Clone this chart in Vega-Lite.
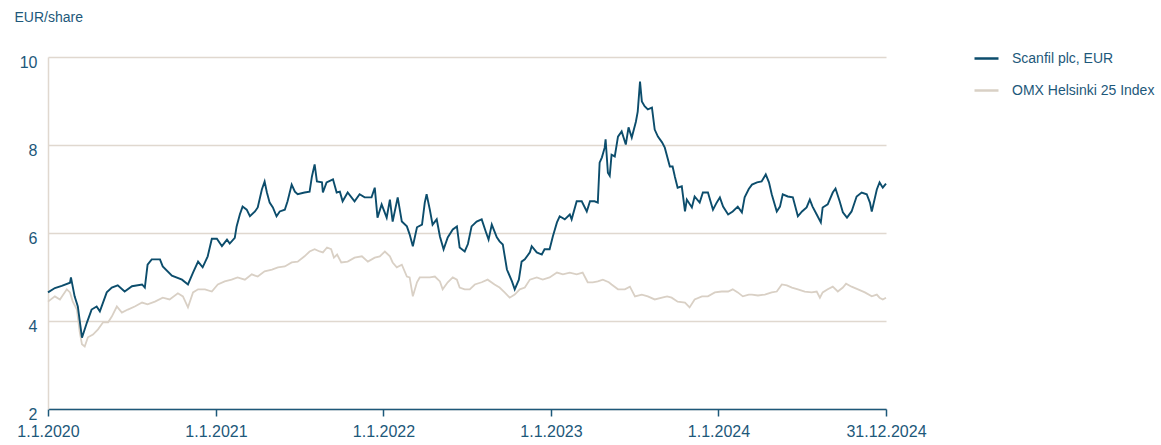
{
  "$schema": "https://vega.github.io/schema/vega-lite/v6.json",
  "width": 838,
  "height": 352,
  "autosize": {"type": "none"},
  "padding": {"left": 48, "top": 57, "right": 275, "bottom": 36},
  "background": "white",
  "config": {
    "view": {"stroke": null},
    "font": "Liberation Sans",
    "legend": {"labelFont": "Liberation Sans"}
  },
  "datasets": {
    "scanfil": [
      {"date":"2020-01-01","value":4.65},{"date":"2020-01-16","value":4.75},{"date":"2020-01-31","value":4.8},{"date":"2020-02-18","value":4.87},{"date":"2020-02-20","value":4.99},{"date":"2020-02-28","value":4.56},{"date":"2020-03-06","value":4.33},{"date":"2020-03-15","value":3.62},{"date":"2020-03-26","value":3.97},{"date":"2020-04-05","value":4.26},{"date":"2020-04-16","value":4.33},{"date":"2020-04-23","value":4.22},{"date":"2020-05-08","value":4.65},{"date":"2020-05-19","value":4.76},{"date":"2020-06-01","value":4.81},{"date":"2020-06-16","value":4.67},{"date":"2020-07-02","value":4.79},{"date":"2020-07-24","value":4.83},{"date":"2020-07-30","value":4.76},{"date":"2020-08-05","value":5.28},{"date":"2020-08-14","value":5.4},{"date":"2020-09-01","value":5.4},{"date":"2020-09-07","value":5.24},{"date":"2020-09-27","value":5.03},{"date":"2020-10-19","value":4.94},{"date":"2020-11-01","value":4.83},{"date":"2020-11-12","value":5.1},{"date":"2020-11-23","value":5.35},{"date":"2020-12-03","value":5.22},{"date":"2020-12-14","value":5.47},{"date":"2020-12-23","value":5.87},
      {"date":"2021-01-03","value":5.87},{"date":"2021-01-14","value":5.7},{"date":"2021-01-25","value":5.85},{"date":"2021-01-31","value":5.76},{"date":"2021-02-11","value":5.89},{"date":"2021-02-15","value":6.15},{"date":"2021-02-22","value":6.42},{"date":"2021-02-28","value":6.6},{"date":"2021-03-09","value":6.53},{"date":"2021-03-16","value":6.38},{"date":"2021-03-27","value":6.49},{"date":"2021-04-02","value":6.58},{"date":"2021-04-11","value":6.99},{"date":"2021-04-17","value":7.17},{"date":"2021-04-22","value":6.92},{"date":"2021-04-28","value":6.69},{"date":"2021-05-05","value":6.58},{"date":"2021-05-13","value":6.38},{"date":"2021-05-20","value":6.49},{"date":"2021-05-31","value":6.53},{"date":"2021-06-06","value":6.72},{"date":"2021-06-15","value":7.1},{"date":"2021-06-22","value":6.94},{"date":"2021-06-28","value":6.88},{"date":"2021-07-13","value":6.92},{"date":"2021-07-24","value":6.94},{"date":"2021-07-29","value":7.28},{"date":"2021-08-04","value":7.56},{"date":"2021-08-09","value":7.17},{"date":"2021-08-20","value":7.15},{"date":"2021-08-22","value":6.92},{"date":"2021-08-30","value":7.15},{"date":"2021-09-13","value":7.22},{"date":"2021-09-21","value":6.92},{"date":"2021-09-28","value":6.94},{"date":"2021-10-04","value":6.72},{"date":"2021-10-15","value":6.92},{"date":"2021-10-30","value":6.72},{"date":"2021-11-10","value":6.88},{"date":"2021-11-21","value":6.81},{"date":"2021-12-06","value":6.81},{"date":"2021-12-13","value":7.03},{"date":"2021-12-19","value":6.35},{"date":"2021-12-28","value":6.65},
      {"date":"2022-01-08","value":6.35},{"date":"2022-01-15","value":6.76},{"date":"2022-01-21","value":6.26},{"date":"2022-02-01","value":6.81},{"date":"2022-02-10","value":6.26},{"date":"2022-02-21","value":6.15},{"date":"2022-02-27","value":5.97},{"date":"2022-03-06","value":5.7},{"date":"2022-03-15","value":6.13},{"date":"2022-03-26","value":6.19},{"date":"2022-04-01","value":6.69},{"date":"2022-04-05","value":6.88},{"date":"2022-04-12","value":6.53},{"date":"2022-04-18","value":6.19},{"date":"2022-04-27","value":6.31},{"date":"2022-05-04","value":5.92},{"date":"2022-05-12","value":5.63},{"date":"2022-05-21","value":5.9},{"date":"2022-06-01","value":6.08},{"date":"2022-06-10","value":6.15},{"date":"2022-06-16","value":5.67},{"date":"2022-06-27","value":5.58},{"date":"2022-07-04","value":5.75},{"date":"2022-07-12","value":6.15},{"date":"2022-07-23","value":6.26},{"date":"2022-08-03","value":6.31},{"date":"2022-08-12","value":6.03},{"date":"2022-08-18","value":5.85},{"date":"2022-08-25","value":6.19},{"date":"2022-09-05","value":5.9},{"date":"2022-09-11","value":5.81},{"date":"2022-09-18","value":5.74},{"date":"2022-09-27","value":5.17},{"date":"2022-10-08","value":4.9},{"date":"2022-10-14","value":4.72},{"date":"2022-10-23","value":4.94},{"date":"2022-10-29","value":5.35},{"date":"2022-11-05","value":5.4},{"date":"2022-11-16","value":5.56},{"date":"2022-11-20","value":5.7},{"date":"2022-12-01","value":5.56},{"date":"2022-12-12","value":5.51},{"date":"2022-12-18","value":5.63},{"date":"2022-12-29","value":5.63},
      {"date":"2023-01-05","value":5.92},{"date":"2023-01-14","value":6.24},{"date":"2023-01-20","value":6.38},{"date":"2023-01-31","value":6.31},{"date":"2023-02-11","value":6.42},{"date":"2023-02-15","value":6.31},{"date":"2023-02-26","value":6.72},{"date":"2023-03-09","value":6.72},{"date":"2023-03-20","value":6.49},{"date":"2023-03-27","value":6.72},{"date":"2023-04-06","value":6.72},{"date":"2023-04-13","value":6.69},{"date":"2023-04-17","value":7.6},{"date":"2023-04-22","value":7.72},{"date":"2023-04-28","value":7.94},{"date":"2023-04-30","value":8.13},{"date":"2023-05-05","value":7.37},{"date":"2023-05-09","value":7.3},{"date":"2023-05-13","value":7.78},{"date":"2023-05-20","value":7.74},{"date":"2023-05-27","value":8.19},{"date":"2023-06-04","value":8.31},{"date":"2023-06-13","value":8.01},{"date":"2023-06-19","value":8.4},{"date":"2023-06-26","value":8.17},{"date":"2023-07-05","value":8.53},{"date":"2023-07-09","value":8.76},{"date":"2023-07-14","value":9.44},{"date":"2023-07-18","value":8.99},{"date":"2023-07-24","value":8.88},{"date":"2023-07-31","value":8.81},{"date":"2023-08-09","value":8.85},{"date":"2023-08-15","value":8.35},{"date":"2023-08-22","value":8.19},{"date":"2023-08-31","value":8.06},{"date":"2023-09-06","value":7.94},{"date":"2023-09-17","value":7.51},{"date":"2023-09-23","value":7.51},{"date":"2023-09-28","value":7.28},{"date":"2023-10-04","value":7.03},{"date":"2023-10-13","value":7.06},{"date":"2023-10-20","value":6.49},{"date":"2023-10-24","value":6.76},{"date":"2023-11-04","value":6.58},{"date":"2023-11-10","value":6.83},{"date":"2023-11-21","value":6.69},{"date":"2023-11-28","value":6.92},{"date":"2023-12-09","value":6.92},{"date":"2023-12-20","value":6.53},{"date":"2023-12-28","value":6.69},
      {"date":"2024-01-04","value":6.81},{"date":"2024-01-11","value":6.6},{"date":"2024-01-22","value":6.42},{"date":"2024-02-01","value":6.49},{"date":"2024-02-12","value":6.6},{"date":"2024-02-21","value":6.47},{"date":"2024-02-27","value":6.81},{"date":"2024-03-07","value":7.0},{"date":"2024-03-14","value":7.1},{"date":"2024-03-25","value":7.15},{"date":"2024-04-04","value":7.17},{"date":"2024-04-13","value":7.33},{"date":"2024-04-20","value":7.15},{"date":"2024-04-26","value":6.88},{"date":"2024-05-07","value":6.49},{"date":"2024-05-14","value":6.6},{"date":"2024-05-20","value":6.88},{"date":"2024-05-31","value":6.83},{"date":"2024-06-11","value":6.81},{"date":"2024-06-22","value":6.38},{"date":"2024-07-01","value":6.49},{"date":"2024-07-11","value":6.58},{"date":"2024-07-18","value":6.76},{"date":"2024-07-24","value":6.6},{"date":"2024-08-02","value":6.42},{"date":"2024-08-11","value":6.24},{"date":"2024-08-15","value":6.58},{"date":"2024-08-26","value":6.65},{"date":"2024-09-06","value":6.92},{"date":"2024-09-12","value":7.01},{"date":"2024-09-21","value":6.72},{"date":"2024-09-28","value":6.47},{"date":"2024-10-07","value":6.35},{"date":"2024-10-17","value":6.49},{"date":"2024-10-28","value":6.83},{"date":"2024-11-08","value":6.92},{"date":"2024-11-19","value":6.88},{"date":"2024-11-26","value":6.69},{"date":"2024-11-30","value":6.49},{"date":"2024-12-11","value":6.99},{"date":"2024-12-17","value":7.15},{"date":"2024-12-24","value":7.03},{"date":"2024-12-31","value":7.12}
    ],
    "omx": [
      {"date":"2020-01-01","value":4.44},{"date":"2020-01-16","value":4.56},{"date":"2020-01-27","value":4.49},{"date":"2020-02-11","value":4.72},{"date":"2020-02-18","value":4.65},{"date":"2020-02-24","value":4.44},{"date":"2020-03-04","value":4.26},{"date":"2020-03-10","value":3.76},{"date":"2020-03-15","value":3.47},{"date":"2020-03-21","value":3.42},{"date":"2020-03-28","value":3.63},{"date":"2020-04-08","value":3.69},{"date":"2020-04-19","value":3.81},{"date":"2020-04-30","value":3.97},{"date":"2020-05-11","value":3.97},{"date":"2020-05-19","value":4.1},{"date":"2020-05-30","value":4.33},{"date":"2020-06-10","value":4.19},{"date":"2020-06-23","value":4.26},{"date":"2020-07-08","value":4.33},{"date":"2020-07-24","value":4.42},{"date":"2020-08-05","value":4.38},{"date":"2020-08-21","value":4.44},{"date":"2020-09-07","value":4.53},{"date":"2020-09-22","value":4.49},{"date":"2020-10-10","value":4.63},{"date":"2020-10-21","value":4.56},{"date":"2020-11-01","value":4.31},{"date":"2020-11-12","value":4.65},{"date":"2020-11-23","value":4.72},{"date":"2020-12-08","value":4.72},{"date":"2020-12-23","value":4.67},
      {"date":"2021-01-05","value":4.83},{"date":"2021-01-20","value":4.9},{"date":"2021-02-04","value":4.94},{"date":"2021-02-17","value":4.99},{"date":"2021-03-05","value":4.94},{"date":"2021-03-20","value":5.06},{"date":"2021-04-02","value":5.01},{"date":"2021-04-17","value":5.13},{"date":"2021-05-03","value":5.17},{"date":"2021-05-16","value":5.22},{"date":"2021-05-31","value":5.24},{"date":"2021-06-15","value":5.33},{"date":"2021-06-28","value":5.35},{"date":"2021-07-13","value":5.47},{"date":"2021-07-24","value":5.58},{"date":"2021-08-04","value":5.63},{"date":"2021-08-15","value":5.58},{"date":"2021-08-22","value":5.56},{"date":"2021-08-31","value":5.67},{"date":"2021-09-09","value":5.63},{"date":"2021-09-15","value":5.44},{"date":"2021-09-22","value":5.51},{"date":"2021-10-01","value":5.33},{"date":"2021-10-15","value":5.35},{"date":"2021-10-30","value":5.44},{"date":"2021-11-15","value":5.47},{"date":"2021-11-28","value":5.35},{"date":"2021-12-13","value":5.44},{"date":"2021-12-24","value":5.47},
      {"date":"2022-01-04","value":5.58},{"date":"2022-01-15","value":5.47},{"date":"2022-01-21","value":5.33},{"date":"2022-01-30","value":5.22},{"date":"2022-02-10","value":5.28},{"date":"2022-02-21","value":5.01},{"date":"2022-02-27","value":4.99},{"date":"2022-03-06","value":4.56},{"date":"2022-03-15","value":4.88},{"date":"2022-03-21","value":4.99},{"date":"2022-04-01","value":4.99},{"date":"2022-04-12","value":4.99},{"date":"2022-04-23","value":5.01},{"date":"2022-05-04","value":4.9},{"date":"2022-05-10","value":4.72},{"date":"2022-05-21","value":4.88},{"date":"2022-06-01","value":4.99},{"date":"2022-06-10","value":4.94},{"date":"2022-06-16","value":4.76},{"date":"2022-06-27","value":4.72},{"date":"2022-07-08","value":4.72},{"date":"2022-07-19","value":4.83},{"date":"2022-08-03","value":4.88},{"date":"2022-08-16","value":4.94},{"date":"2022-08-31","value":4.83},{"date":"2022-09-11","value":4.76},{"date":"2022-09-22","value":4.65},{"date":"2022-10-03","value":4.53},{"date":"2022-10-14","value":4.6},{"date":"2022-10-25","value":4.72},{"date":"2022-11-05","value":4.76},{"date":"2022-11-16","value":4.94},{"date":"2022-12-01","value":4.99},{"date":"2022-12-14","value":4.94},{"date":"2022-12-29","value":4.99},
      {"date":"2023-01-14","value":5.1},{"date":"2023-01-27","value":5.06},{"date":"2023-02-11","value":5.1},{"date":"2023-02-26","value":5.06},{"date":"2023-03-11","value":5.1},{"date":"2023-03-22","value":4.88},{"date":"2023-04-02","value":4.88},{"date":"2023-04-13","value":4.9},{"date":"2023-04-24","value":4.94},{"date":"2023-05-07","value":4.88},{"date":"2023-05-13","value":4.83},{"date":"2023-05-27","value":4.72},{"date":"2023-06-11","value":4.72},{"date":"2023-06-22","value":4.78},{"date":"2023-07-03","value":4.56},{"date":"2023-07-18","value":4.6},{"date":"2023-07-31","value":4.56},{"date":"2023-08-15","value":4.49},{"date":"2023-08-31","value":4.53},{"date":"2023-09-11","value":4.56},{"date":"2023-09-21","value":4.53},{"date":"2023-10-04","value":4.44},{"date":"2023-10-20","value":4.42},{"date":"2023-10-30","value":4.31},{"date":"2023-11-10","value":4.49},{"date":"2023-11-26","value":4.56},{"date":"2023-12-09","value":4.56},{"date":"2023-12-24","value":4.65},
      {"date":"2024-01-08","value":4.67},{"date":"2024-01-22","value":4.67},{"date":"2024-02-01","value":4.72},{"date":"2024-02-12","value":4.65},{"date":"2024-02-23","value":4.56},{"date":"2024-03-07","value":4.6},{"date":"2024-03-14","value":4.6},{"date":"2024-03-27","value":4.58},{"date":"2024-04-11","value":4.6},{"date":"2024-04-26","value":4.65},{"date":"2024-05-07","value":4.67},{"date":"2024-05-18","value":4.83},{"date":"2024-05-29","value":4.81},{"date":"2024-06-09","value":4.76},{"date":"2024-06-22","value":4.72},{"date":"2024-07-07","value":4.67},{"date":"2024-07-22","value":4.65},{"date":"2024-08-02","value":4.67},{"date":"2024-08-09","value":4.53},{"date":"2024-08-15","value":4.65},{"date":"2024-08-26","value":4.72},{"date":"2024-09-06","value":4.78},{"date":"2024-09-17","value":4.67},{"date":"2024-09-28","value":4.76},{"date":"2024-10-05","value":4.85},{"date":"2024-10-17","value":4.78},{"date":"2024-10-31","value":4.72},{"date":"2024-11-15","value":4.65},{"date":"2024-11-30","value":4.56},{"date":"2024-12-11","value":4.6},{"date":"2024-12-17","value":4.53},{"date":"2024-12-24","value":4.49},{"date":"2024-12-31","value":4.53}
    ]
  },
  "encoding": {
    "x": {
      "field": "date",
      "type": "temporal",
      "scale": {
        "type": "utc",
        "domain": [
          {"year": 2020, "month": 1, "date": 1, "utc": true},
          {"year": 2024, "month": 12, "date": 31, "utc": true}
        ]
      },
      "axis": {
        "title": null,
        "grid": false,
        "values": [
          {"year": 2020, "month": 1, "date": 1, "utc": true},
          {"year": 2021, "month": 1, "date": 1, "utc": true},
          {"year": 2022, "month": 1, "date": 1, "utc": true},
          {"year": 2023, "month": 1, "date": 1, "utc": true},
          {"year": 2024, "month": 1, "date": 1, "utc": true},
          {"year": 2024, "month": 12, "date": 31, "utc": true}
        ],
        "labelExpr": "utcFormat(datum.value, '%-d.%-m.%Y')",
        "labelFontSize": 16,
        "labelColor": "#1d587a",
        "labelPadding": 7,
        "labelFlush": false,
        "labelOverlap": false,
        "domainColor": "#1d587a",
        "domainWidth": 1.5,
        "tickColor": "#1d587a",
        "tickWidth": 1.5,
        "tickSize": 7
      }
    },
    "y": {
      "field": "value",
      "type": "quantitative",
      "scale": {"domain": [2, 10], "nice": false, "zero": false},
      "axis": {
        "values": [2, 4, 6, 8, 10],
        "title": "EUR/share",
        "titleAngle": 0,
        "titleAlign": "left",
        "titleBaseline": "middle",
        "titleX": -34,
        "titleY": -40,
        "titleFontSize": 14,
        "titleFontWeight": "normal",
        "titleColor": "#1d587a",
        "labelFontSize": 16,
        "labelColor": "#1d587a",
        "labelPadding": 11,
        "labelOffset": 5,
        "ticks": false,
        "domainColor": "#e0d8cf",
        "domainWidth": 1.5,
        "gridColor": "#e0d8cf",
        "gridWidth": 1.5
      }
    }
  },
  "layer": [
    {
      "data": {"name": "omx"},
      "mark": {"type": "line", "strokeWidth": 1.8, "interpolate": "linear"},
      "encoding": {
        "color": {
          "datum": "OMX Helsinki 25 Index",
          "type": "nominal",
          "scale": {
            "domain": ["Scanfil plc, EUR", "OMX Helsinki 25 Index"],
            "range": ["#0c4d6c", "#d9d0c5"]
          },
          "legend": {
            "title": null,
            "orient": "none",
            "legendX": 925,
            "legendY": -12,
            "padding": 0,
            "symbolType": "stroke",
            "symbolSize": 576,
            "symbolStrokeWidth": 2.5,
            "labelFontSize": 14,
            "labelColor": "#1d587a",
            "labelOffset": 12,
            "rowPadding": 11,
            "labelLimit": 300
          }
        }
      }
    },
    {
      "data": {"name": "scanfil"},
      "mark": {"type": "line", "strokeWidth": 1.9, "interpolate": "linear"},
      "encoding": {
        "color": {"datum": "Scanfil plc, EUR", "type": "nominal"}
      }
    }
  ]
}
